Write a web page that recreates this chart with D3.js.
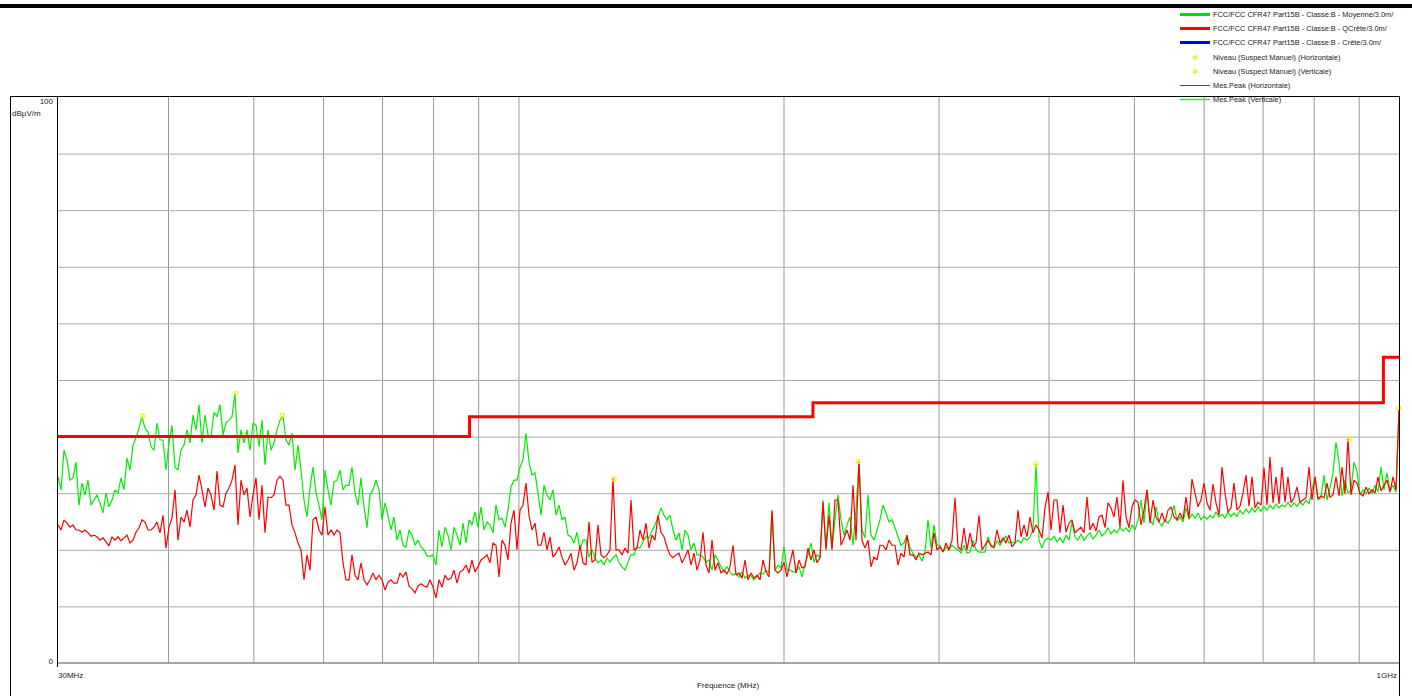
<!DOCTYPE html>
<html>
<head>
<meta charset="utf-8">
<script src="https://cdn.jsdelivr.net/npm/d3@7/dist/d3.min.js"></script>
<style>
body { margin: 0; background: #fff; }
svg text { font-family: "Liberation Sans", Arial, sans-serif; font-size: 8px; fill: #222; }
svg .item text { font-size: 7.4px; }
</style>
</head>
<body>
<svg id="chart" width="1412" height="696"></svg>
<script>
// receiver sweep, log spaced from start to stop
var freqStart = 30, freqStop = 1000;

// Mes.Peak (Verticale) - dBuV/m
var levelsVert = [
32.9,30.6,37.6,35.9,32.3,32.7,35.5,27.9,31.8,29.7,
32.3,27.9,28.8,29.7,28.3,26.5,30.0,27.6,28.8,30.6,
30.0,32.7,30.6,36.2,34.1,38.5,39.8,41.5,43.5,41.5,
40.8,38.2,37.6,42.4,39.4,39.4,34.1,38.9,42.0,34.6,
34.1,37.6,38.5,41.2,38.9,43.8,41.2,45.6,38.9,43.8,
40.3,39.9,44.3,43.5,45.6,40.3,42.4,42.9,43.5,47.7,
37.1,41.2,38.9,41.2,37.6,42.4,42.0,38.2,42.9,35.0,
41.2,37.6,38.9,41.2,42.9,43.6,39.4,38.5,40.6,34.1,
38.5,34.1,28.8,25.8,30.9,34.6,30.0,27.9,25.3,34.1,
30.6,27.9,32.0,32.3,34.1,30.6,31.4,31.4,34.6,30.0,
27.9,32.7,27.6,23.9,29.7,30.6,32.3,30.6,25.3,28.3,
26.1,23.5,25.8,21.7,23.5,20.8,20.5,23.5,22.6,20.8,
21.7,20.5,20.0,18.9,18.9,19.1,17.3,23.5,20.5,24.0,
22.6,20.0,24.0,22.6,20.8,24.7,21.2,25.3,24.4,26.7,
24.0,27.6,23.5,24.9,24.4,23.0,27.9,25.3,25.6,24.0,
27.0,31.1,32.3,32.3,34.6,35.9,40.6,35.5,33.2,33.6,
30.0,26.1,31.4,29.7,28.8,30.6,26.1,27.9,25.3,25.8,
22.6,22.3,21.2,23.1,20.0,21.7,21.7,18.7,20.0,18.6,
17.7,18.2,17.3,18.6,17.8,18.6,19.1,17.8,17.0,16.4,
17.8,19.1,19.1,20.5,20.3,21.4,22.3,22.1,23.3,24.4,
25.8,27.4,26.1,25.3,26.1,23.5,21.7,23.0,20.0,23.5,
22.6,20.0,21.2,19.1,19.1,18.7,17.8,18.2,16.4,19.1,
18.2,17.0,16.1,17.0,16.1,15.5,15.9,15.2,16.1,15.0,
15.5,15.4,14.7,15.2,15.9,15.7,16.4,15.9,26.7,16.4,
17.3,16.8,20.5,16.4,16.4,16.1,16.1,17.0,15.2,17.5,
19.1,21.2,17.8,19.1,18.6,28.8,20.3,28.3,20.3,25.3,
29.7,25.3,22.6,24.4,25.8,20.8,27.0,35.6,23.5,22.1,
29.7,22.6,21.7,23.5,25.3,27.9,26.5,24.9,25.3,23.9,
22.3,20.8,21.2,22.6,20.3,19.4,18.7,19.1,18.0,19.6,
25.3,20.3,24.4,20.8,20.8,19.6,20.5,20.0,20.8,20.3,
20.0,19.4,20.8,19.4,19.6,21.7,20.0,19.6,19.6,19.6,
22.3,20.5,20.3,21.6,20.8,21.7,22.4,21.2,21.4,21.2,
21.7,21.2,22.1,21.7,22.3,23.5,35.2,21.7,20.3,21.7,
22.1,21.7,22.4,21.4,22.1,21.2,22.6,21.7,24.9,22.3,
21.7,22.8,21.7,22.4,23.0,21.9,22.6,23.5,22.4,23.0,
23.9,22.8,23.5,23.0,24.0,23.3,23.9,23.1,24.4,23.5,
25.3,28.8,24.7,30.6,25.3,24.4,27.6,24.9,24.2,25.3,
24.7,25.6,27.9,25.1,25.8,24.9,27.4,25.4,26.3,25.6,
26.5,25.3,25.9,25.4,26.1,25.6,26.7,25.8,26.3,25.6,
26.7,25.9,26.5,25.9,27.0,26.3,27.2,26.5,27.4,26.7,
27.6,26.8,27.7,27.0,27.9,27.2,28.1,27.4,27.9,27.6,
28.4,27.6,28.3,27.7,28.4,27.9,28.8,28.1,30.6,32.9,
28.8,29.3,33.2,28.8,30.9,33.6,39.0,35.5,29.5,32.3,
30.0,30.6,35.5,33.9,29.7,30.6,29.9,30.9,29.9,31.4,
30.2,34.6,30.6,33.6,30.4,31.4,30.2,44.7
];

// Mes.Peak (Horizontale) - dBuV/m
var levelsHoriz = [
24.4,23.5,25.3,24.7,24.0,24.4,23.5,23.5,23.1,23.5,
23.0,22.4,22.6,22.3,21.7,22.1,21.4,20.7,22.3,21.7,
22.3,21.6,22.1,22.6,21.2,21.7,23.1,23.9,25.3,24.9,
23.5,23.5,24.0,24.9,23.0,26.1,20.3,24.0,25.6,30.6,
21.7,25.8,24.9,27.0,24.0,28.8,29.7,33.2,30.6,27.6,
30.9,29.7,27.0,33.9,27.9,27.6,30.0,30.9,32.3,35.0,
24.4,32.3,29.7,30.9,25.8,29.7,32.7,25.3,31.4,23.0,
29.3,29.2,29.7,32.3,33.0,32.3,27.9,27.9,24.4,23.0,
21.2,20.0,14.7,19.1,16.4,25.3,25.8,23.5,22.6,27.6,
22.6,23.5,22.6,23.5,23.0,17.7,14.7,14.7,19.1,15.5,
14.7,17.7,14.7,13.8,14.7,15.9,14.7,15.5,14.7,12.9,
14.3,14.7,14.1,14.1,15.9,15.2,16.1,13.6,13.1,12.4,
13.6,14.0,13.6,13.4,14.7,13.4,11.5,14.7,13.4,15.5,
14.7,15.0,16.4,14.1,16.1,16.4,17.3,15.9,18.2,16.1,
17.0,18.2,18.6,19.1,17.7,21.2,20.8,15.2,21.7,20.8,
18.2,24.7,27.0,20.0,27.0,27.9,31.8,26.1,23.5,24.7,
20.8,20.8,23.1,20.0,22.3,18.7,19.4,20.5,18.7,17.3,
18.2,19.4,16.4,17.7,20.8,17.7,17.3,24.9,17.8,18.2,
24.4,19.1,18.6,19.1,20.0,32.7,20.0,20.0,19.1,20.3,
19.4,28.8,20.0,20.3,23.5,21.7,24.7,20.3,22.6,21.7,
26.1,23.1,22.3,20.5,19.1,18.6,19.1,19.4,17.7,18.7,
20.0,17.3,19.4,16.4,18.2,23.1,17.3,15.9,21.7,16.4,
17.7,15.9,16.4,15.7,17.0,20.8,15.5,15.9,15.0,18.2,
14.7,15.9,15.0,15.5,14.7,18.2,16.1,15.2,27.0,16.4,
15.9,16.4,17.8,15.2,17.7,20.0,15.9,18.2,16.8,17.0,
20.3,18.2,20.0,17.7,18.6,28.4,20.0,26.1,20.0,28.8,
28.8,20.8,22.1,23.5,21.7,31.4,21.7,35.6,21.7,20.3,
21.7,17.0,18.7,18.2,20.8,20.8,20.0,21.7,20.8,20.8,
17.3,19.4,18.7,22.6,19.1,19.1,18.2,19.4,19.1,19.4,
19.6,19.1,23.0,20.0,20.5,19.6,21.2,20.0,21.7,29.2,
20.5,20.0,23.9,20.0,23.0,20.5,21.2,26.1,20.0,20.8,
21.7,20.8,20.5,23.5,21.2,22.1,21.2,22.6,20.5,21.2,
27.0,22.3,24.4,22.3,25.8,23.0,24.4,23.5,22.1,27.4,
30.2,23.5,28.8,28.8,23.0,27.9,23.1,24.7,25.3,23.0,
23.5,24.0,23.0,29.3,23.5,24.7,23.3,25.8,26.1,23.9,
28.3,27.4,25.8,29.3,24.0,32.3,25.8,23.9,27.6,28.8,
28.4,24.4,27.0,30.6,24.7,28.8,25.8,24.9,26.5,24.9,
27.0,27.6,25.8,25.3,26.5,25.4,29.3,25.6,32.5,30.0,
27.6,28.8,31.8,28.3,27.0,31.6,28.3,26.1,34.6,30.0,
26.7,27.4,31.8,27.0,27.7,30.0,33.2,27.7,32.9,27.4,
28.4,27.9,34.5,27.9,36.4,28.3,32.9,28.1,34.6,28.4,
32.9,28.3,29.2,31.1,28.4,28.8,29.2,34.6,28.8,32.9,
29.0,29.5,29.2,31.8,29.3,29.7,32.9,29.5,34.6,29.9,
39.6,29.7,32.3,31.8,29.9,29.5,31.1,29.9,30.6,30.0,
32.9,30.4,31.4,32.3,30.2,32.9,30.6,44.7
];

// FCC Part 15B class B QP limit, 3 m
var limitFreqs = [30, 88, 88, 216, 216, 960, 960, 1000];
var limitLevels = [40, 40, 43.5, 43.5, 46, 46, 54, 54];

// Niveau (Suspect Manuel)
var peakFreqs = [37.4, 47.8, 53.9, 128.4, 243.0, 386.9, 877.0, 999.0];
var peakLevels = [43.6, 47.7, 43.8, 32.5, 35.6, 35.2, 39.6, 45.1];

var gridFreqs = [40, 50, 60, 70, 80, 90, 100, 200, 300, 400, 500, 600, 700, 800, 900];
var gridLevels = [10, 20, 30, 40, 50, 60, 70, 80, 90];

var legendLabels = [
    'FCC/FCC CFR47 Part15B - Classe:B - Moyenne/3.0m/',
    'FCC/FCC CFR47 Part15B - Classe:B - QCrête/3.0m/',
    'FCC/FCC CFR47 Part15B - Classe:B - Crête/3.0m/',
    'Niveau (Suspect Manuel) (Horizontale)',
    'Niveau (Suspect Manuel) (Verticale)',
    'Mes.Peak (Horizontale)',
    'Mes.Peak (Verticale)'
];

(function () {
    var legendStyles = [
        { color: '#00dd00', width: 3 },
        { color: '#ff0000', width: 3 },
        { color: '#0000ff', width: 3 },
        { dot: true },
        { dot: true },
        { color: '#ff0000', width: 1 },
        { color: '#33ee33', width: 1.6 }
    ];

    var pLeft = 58, pRight = 1399, pTop = 97, pBottom = 663;
    var svg = d3.select('#chart');
    var x = d3.scaleLog().domain([freqStart, freqStop]).range([pLeft, pRight]);
    var y = d3.scaleLinear().domain([0, 100]).range([pBottom, pTop]);

    var sweepFreq = function (n) {
        return function (i) { return freqStart * Math.pow(freqStop / freqStart, i / (n - 1)); };
    };

    // top bar
    svg.append('rect').attr('x', 0).attr('y', 4).attr('width', 1412).attr('height', 4).attr('fill', '#000');

    // grid
    svg.append('g').attr('transform', 'translate(0,' + pBottom + ')')
        .call(d3.axisBottom(x).tickValues(gridFreqs).tickSize(-(pBottom - pTop)).tickFormat(''))
        .call(function (g) { g.select('.domain').remove(); })
        .selectAll('line').attr('stroke', '#999');
    svg.append('g').attr('transform', 'translate(' + pLeft + ',0)')
        .call(d3.axisLeft(y).tickValues(gridLevels).tickSize(-(pRight - pLeft)).tickFormat(''))
        .call(function (g) { g.select('.domain').remove(); })
        .selectAll('line').attr('stroke', '#aaa');
    svg.append('line').attr('x1', pLeft).attr('x2', pRight).attr('y1', y(0)).attr('y2', y(0))
        .attr('stroke', '#888').attr('stroke-width', 1.5);

    // traces
    var trace = function (levels, color, width) {
        var f = sweepFreq(levels.length);
        var line = d3.line().x(function (d, i) { return x(f(i)); }).y(function (d) { return y(d); });
        svg.append('path').datum(levels).attr('d', line)
            .attr('fill', 'none').attr('stroke', color).attr('stroke-width', width)
            .attr('stroke-linejoin', 'miter').attr('stroke-miterlimit', 2);
    };
    trace(levelsVert, '#00ee00', 1.2);
    trace(levelsHoriz, '#ff0000', 1.2);

    // limit line
    var limitLine = d3.line().x(function (d, i) { return x(limitFreqs[i]); }).y(function (d) { return y(d); });
    svg.append('path').datum(limitLevels).attr('d', limitLine)
        .attr('fill', 'none').attr('stroke', '#ff0000').attr('stroke-width', 3);

    // suspect markers
    svg.selectAll('.peak').data(peakFreqs).enter().append('circle').classed('peak', true)
        .attr('cx', function (d) { return x(d); })
        .attr('cy', function (d, i) { return y(peakLevels[i]); })
        .attr('r', 2).attr('fill', 'none').attr('stroke', '#ffee00').attr('stroke-width', 1.2);

    // frame
    var frame = svg.append('g').attr('stroke', '#000').attr('stroke-width', 1);
    frame.append('line').attr('x1', 10).attr('x2', pRight + 0.5).attr('y1', pTop - 0.5).attr('y2', pTop - 0.5);
    frame.append('line').attr('x1', 10.5).attr('x2', 10.5).attr('y1', pTop - 0.5).attr('y2', 696);
    frame.append('line').attr('x1', pLeft - 0.5).attr('x2', pLeft - 0.5).attr('y1', pTop - 0.5).attr('y2', pBottom + 4);
    frame.append('line').attr('x1', pRight + 0.5).attr('x2', pRight + 0.5).attr('y1', pTop - 0.5).attr('y2', 696);

    // axis labels
    svg.append('text').attr('x', 53).attr('y', 104).attr('text-anchor', 'end').text('100');
    svg.append('text').attr('x', 12).attr('y', 116).text('dBµV/m');
    svg.append('text').attr('x', 53).attr('y', 664).attr('text-anchor', 'end').text('0');
    svg.append('text').attr('x', x(freqStart)).attr('y', 678).text('30MHz');
    svg.append('text').attr('x', x(freqStop) - 2).attr('y', 678).attr('text-anchor', 'end').text('1GHz');
    svg.append('text').attr('x', 728).attr('y', 688).attr('text-anchor', 'middle').text('Fréquence (MHz)');

    // legend
    var legend = svg.append('g').attr('transform', 'translate(1180,14)');
    var items = legend.selectAll('.item').data(legendLabels).enter().append('g').classed('item', true)
        .attr('transform', function (d, i) { return 'translate(0,' + Math.round(i * 14.2) + ')'; });
    items.each(function (d, i) {
        var g = d3.select(this), s = legendStyles[i];
        if (s.dot) {
            g.append('circle').attr('cx', 15).attr('cy', 0.5).attr('r', 1.7)
                .attr('fill', '#ffff66').attr('stroke', '#eedd00').attr('stroke-width', 1);
        } else {
            g.append('line').attr('x1', 0).attr('x2', 30).attr('y1', 0.5).attr('y2', 0.5)
                .attr('stroke', s.color).attr('stroke-width', s.width);
        }
        g.append('text').attr('x', 33).attr('y', 2.5).text(d);
    });
})();
</script>
</body>
</html>
